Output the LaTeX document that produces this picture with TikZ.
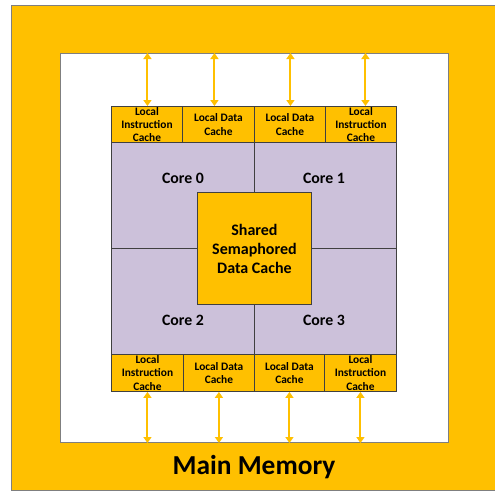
\documentclass[tikz,border=0pt]{standalone}
\usepackage{fontspec}
\setmainfont{Carlito}
\usetikzlibrary{arrows.meta}
\definecolor{memyellow}{HTML}{FFC000}
\definecolor{corelav}{HTML}{CCC1DA}
\definecolor{frameline}{HTML}{7F7F7F}
\definecolor{chipline}{HTML}{404040}
\tikzset{
  memframe/.style={fill=memyellow, draw=frameline, line width=1pt},
  innerbox/.style={fill=white, draw=frameline, line width=1pt},
  cachebox/.style={fill=memyellow, draw=chipline, line width=0.9pt, inner sep=0pt, anchor=north west, minimum width=#1, minimum height=36pt},
  corebox/.style={fill=corelav, draw=chipline, line width=0.6pt, inner sep=0pt, anchor=north west, minimum width=142pt, minimum height=106pt},
  sharedbox/.style={fill=memyellow, draw=chipline, line width=0.9pt, inner sep=0pt, anchor=north west, minimum width=114pt, minimum height=112pt},
  cachetxt/.style={inner sep=0pt, align=center, font=\fontsize{11.4}{13.3}\selectfont\bfseries},
  coretxt/.style={inner sep=0pt, font=\fontsize{15.8}{19}\selectfont\bfseries},
  sharedtxt/.style={inner sep=0pt, align=center, font=\fontsize{16}{19}\selectfont\bfseries},
  memtxt/.style={inner sep=0pt, font=\fontsize{27.4}{30}\selectfont\bfseries},
  link/.style={draw=memyellow, line width=2pt, {Triangle[width=8pt,length=6pt]}-{Triangle[width=8pt,length=6pt]}, shorten <=0pt, shorten >=0pt}
}
\begin{document}
\begin{tikzpicture}[x=1pt,y=-1pt]
\useasboundingbox (0,0) rectangle (495,493);
% main memory frame
\path[memframe] (11,5) rectangle (505,490);
\node[innerbox, inner sep=0pt, anchor=north west, minimum width=388pt, minimum height=389pt] (inner) at (60,53) {};
\node[memtxt] (mm) at (254,467) {Main Memory};
% cores
\node[corebox, minimum width=143pt] (c0) at (111,142) {};
\node[corebox] (c1) at (254,142) {};
\node[corebox, minimum width=143pt] (c2) at (111,248) {};
\node[corebox] (c3) at (254,248) {};
\node[coretxt] (c0t) at (183,178) {Core 0};
\node[coretxt] (c1t) at (324,178) {Core 1};
\node[coretxt] (c2t) at (183,320) {Core 2};
\node[coretxt] (c3t) at (324,320) {Core 3};
% shared cache
\node[sharedbox] (sh) at (197,192) {};
\node[sharedtxt] (sht) at (sh.center) {Shared\\Semaphored\\Data Cache};
% top caches
\node[cachebox=71pt] (t1) at (111,106) {};
\node[cachebox=72pt] (t2) at (182,106) {};
\node[cachebox=71pt] (t3) at (254,106) {};
\node[cachebox=71pt] (t4) at (325,106) {};
\node[cachetxt] (t1t) at (t1.center) {Local\\Instruction\\Cache};
\node[cachetxt] (t2t) at (t2.center) {Local Data\\Cache};
\node[cachetxt] (t3t) at (t3.center) {Local Data\\Cache};
\node[cachetxt] (t4t) at (t4.center) {Local\\Instruction\\Cache};
% bottom caches
\node[cachebox=72pt, minimum height=37pt] (b1) at (111,354) {};
\node[cachebox=71pt, minimum height=37pt] (b2) at (183,354) {};
\node[cachebox=70pt, minimum height=37pt] (b3) at (254,354) {};
\node[cachebox=72pt, minimum height=37pt] (b4) at (324,354) {};
\node[cachetxt] (b1t) at (b1.center) {Local\\Instruction\\Cache};
\node[cachetxt] (b2t) at (b2.center) {Local Data\\Cache};
\node[cachetxt] (b3t) at (b3.center) {Local Data\\Cache};
\node[cachetxt] (b4t) at (b4.center) {Local\\Instruction\\Cache};
% links to main memory
\coordinate (ta1) at ([xshift=0.5pt]t1.north);
\coordinate (ta2) at ([xshift=-4pt]t2.north);
\coordinate (ta3) at ([xshift=0.5pt]t3.north);
\coordinate (ta4) at ([xshift=4.5pt]t4.north);
\draw[link] (ta1) -- (ta1 |- inner.north);
\draw[link] (ta2) -- (ta2 |- inner.north);
\draw[link] (ta3) -- (ta3 |- inner.north);
\draw[link] (ta4) -- (ta4 |- inner.north);
\draw[link] (b1.south) -- (b1.south |- inner.south);
\draw[link] (b2.south) -- (b2.south |- inner.south);
\draw[link] (b3.south) -- (b3.south |- inner.south);
\draw[link] (b4.south) -- (b4.south |- inner.south);
\end{tikzpicture}
\end{document}
